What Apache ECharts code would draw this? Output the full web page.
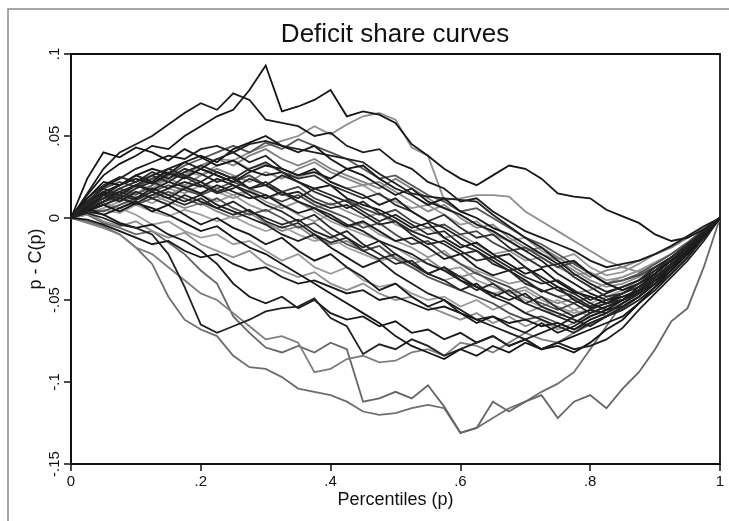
<!DOCTYPE html>
<html>
<head>
<meta charset="utf-8">
<style>
  html, body { margin: 0; padding: 0; background: #fff; }
  #chart { width: 729px; height: 521px; }
</style>
<script src="https://cdn.jsdelivr.net/npm/echarts@6/dist/echarts.min.js"></script>
</head>
<body>
<div id="chart"></div>
<script>
// Percentile grid shared by every curve
const percentiles = [0, 0.025, 0.05, 0.075, 0.1, 0.125, 0.15, 0.175, 0.2, 0.225, 0.25, 0.275, 0.3, 0.325, 0.35, 0.375, 0.4, 0.425, 0.45, 0.475, 0.5, 0.525, 0.55, 0.575, 0.6, 0.625, 0.65, 0.675, 0.7, 0.725, 0.75, 0.775, 0.8, 0.825, 0.85, 0.875, 0.9, 0.925, 0.95, 0.975, 1];

// p - C(p) for each curve, in thousandths
const curve01 = [0,14,26,33,38,44,42,50,56,62,66,78,93,65,68,72,78,62,65,63,58,45,38,30,24,20,26,32,30,24,15,13,12,5,1,-3,-10,-14,-12,-7,0];
const curve02 = [0,15,30,40,45,50,57,64,70,66,76,72,60,58,56,50,52,44,40,42,34,30,22,18,10,12,4,-2,-8,-12,-16,-20,-26,-30,-28,-26,-22,-17,-11,-5,0];
const curve03 = [0,6,12,16,20,24,27,26,32,36,35,40,44,47,50,56,51,57,62,64,60,43,38,11,12,14,14,13,4,-2,-8,-14,-20,-26,-30,-33,-30,-25,-18,-10,0];
const curve04 = [0,10,19,24,30,34,38,36,42,44,40,45,47,44,42,40,38,36,34,27,21,15,13,12,11,10,2,-5,-12,-18,-26,-34,-40,-45,-42,-38,-32,-26,-18,-9,0];
const curve05 = [0,24,40,37,43,40,35,42,37,32,35,29,26,28,22,18,20,12,8,5,0,-6,-3,-12,-18,-15,-22,-28,-34,-31,-39,-45,-48,-52,-50,-46,-40,-32,-22,-12,0];
const curve06 = [0,5,12,15,20,18,24,28,26,32,35,30,33,28,25,28,22,18,20,14,10,6,8,2,-4,-2,-10,-14,-12,-20,-25,-22,-30,-35,-33,-28,-22,-18,-12,-6,0];
const curve07 = [0,12,20,25,22,28,24,30,27,22,25,18,20,14,16,10,6,8,2,-4,-2,-10,-16,-14,-20,-26,-24,-30,-36,-40,-38,-44,-50,-46,-42,-38,-30,-24,-16,-8,0];
const curve08 = [0,8,16,14,20,17,22,19,15,20,16,12,14,8,3,6,0,-5,-2,-8,-14,-12,-18,-25,-22,-30,-35,-32,-38,-45,-42,-50,-55,-52,-48,-44,-38,-30,-20,-10,0];
const curve09 = [0,7,12,10,15,18,14,19,22,18,14,17,12,15,10,6,9,4,0,3,-4,-8,-6,-12,-10,-16,-22,-20,-26,-24,-30,-35,-33,-38,-36,-32,-27,-22,-15,-7,0];
const curve10 = [0,10,18,22,19,24,28,25,30,26,22,26,20,16,19,12,8,11,6,2,5,-2,-6,-4,-10,-8,-15,-20,-18,-24,-30,-27,-34,-40,-38,-35,-30,-24,-17,-9,0];
const curve11 = [0,6,10,14,11,16,12,8,12,6,2,5,-2,-6,-3,-10,-15,-12,-20,-25,-22,-28,-34,-30,-38,-44,-40,-47,-52,-48,-55,-60,-56,-52,-50,-45,-38,-30,-22,-12,0];
const curve12 = [0,4,9,6,11,14,10,6,9,4,0,3,-3,-8,-5,-12,-16,-14,-20,-17,-24,-28,-25,-32,-36,-33,-40,-45,-42,-48,-52,-49,-54,-50,-46,-42,-36,-28,-20,-10,0];
const curve13 = [0,4,2,-3,-6,-4,-10,-14,-20,-28,-40,-48,-52,-48,-55,-50,-58,-62,-60,-66,-63,-70,-68,-74,-70,-76,-72,-78,-74,-80,-76,-72,-68,-64,-60,-52,-44,-34,-24,-12,0];
const curve14 = [0,3,0,-4,-6,-10,-22,-42,-65,-70,-66,-62,-57,-55,-54,-49,-61,-66,-83,-77,-80,-74,-78,-84,-80,-76,-72,-78,-74,-70,-66,-70,-64,-60,-56,-50,-42,-34,-24,-12,0];
const curve15 = [0,-2,-5,-10,-18,-28,-48,-62,-68,-72,-84,-91,-92,-97,-104,-106,-108,-112,-118,-120,-119,-116,-114,-116,-131,-128,-122,-116,-112,-106,-101,-94,-80,-66,-52,-44,-34,-25,-16,-8,0];
const curve16 = [0,2,-3,-6,-10,-8,-15,-22,-32,-40,-60,-70,-79,-82,-78,-82,-76,-80,-112,-110,-106,-110,-102,-115,-131,-128,-112,-118,-112,-108,-122,-112,-108,-116,-104,-94,-80,-63,-55,-30,0];
const curve17 = [0,-3,-6,-10,-18,-22,-30,-38,-46,-50,-58,-66,-74,-72,-76,-94,-92,-86,-84,-88,-87,-82,-80,-84,-76,-78,-82,-76,-70,-74,-76,-70,-65,-60,-52,-46,-36,-28,-20,-10,0];
const curve18 = [0,5,8,4,9,6,2,-3,-8,-5,-12,-18,-22,-28,-34,-40,-46,-52,-58,-64,-72,-78,-82,-86,-80,-84,-78,-82,-76,-80,-78,-82,-76,-68,-62,-52,-42,-32,-22,-10,0];
const curve19 = [0,8,12,16,12,18,14,10,14,8,4,0,-4,-10,-14,-10,-18,-24,-30,-26,-34,-40,-46,-50,-56,-62,-66,-70,-74,-80,-76,-80,-78,-74,-67,-56,-46,-36,-26,-14,0];
const curve20 = [0,4,10,13,8,12,16,12,8,12,6,2,5,0,-6,-3,-10,-16,-20,-17,-25,-30,-36,-40,-44,-48,-52,-58,-62,-60,-64,-68,-64,-60,-55,-48,-40,-30,-21,-11,0];
const curve21 = [0,3,6,10,13,9,14,18,14,10,14,8,4,8,2,-2,2,-6,-10,-14,-18,-24,-28,-32,-30,-38,-42,-46,-44,-50,-54,-58,-56,-60,-54,-46,-38,-30,-20,-10,0];
const curve22 = [0,9,15,12,18,22,18,25,20,15,18,24,20,26,22,16,12,6,10,3,-2,-8,-12,-16,-22,-20,-28,-32,-40,-44,-48,-52,-58,-54,-50,-44,-36,-28,-20,-10,0];
const curve23 = [0,12,22,20,26,30,27,34,38,34,42,46,50,44,40,44,36,30,32,24,18,14,8,12,4,0,-6,-10,-16,-22,-28,-26,-34,-40,-44,-40,-34,-26,-18,-9,0];
const curve24 = [0,8,14,18,15,20,24,20,26,30,26,22,28,24,30,34,28,24,20,22,16,10,4,8,0,-6,-4,-12,-18,-22,-26,-32,-38,-42,-40,-36,-30,-24,-16,-8,0];
const curve25 = [0,2,5,3,8,4,1,5,2,-2,1,-4,-8,-5,-10,-14,-12,-18,-22,-26,-24,-30,-34,-38,-35,-42,-46,-44,-50,-54,-50,-56,-60,-56,-52,-45,-38,-30,-21,-11,0];
const curve26 = [0,6,12,18,22,26,22,28,32,28,24,30,34,28,24,26,20,16,12,15,8,4,-2,2,-6,-12,-10,-18,-24,-30,-28,-36,-42,-48,-46,-42,-36,-28,-20,-10,0];
const curve27 = [0,5,4,8,12,16,20,17,14,18,22,18,14,10,14,8,4,0,-6,-3,-10,-16,-14,-22,-28,-34,-38,-42,-48,-52,-56,-52,-48,-52,-46,-40,-34,-26,-18,-9,0];
const curve28 = [0,10,16,20,24,21,27,24,30,26,22,28,32,30,26,28,24,30,26,20,14,18,10,6,2,-4,-8,-14,-20,-26,-34,-40,-46,-50,-48,-44,-36,-28,-20,-10,0];
const curve29 = [0,3,-2,-5,-2,-8,-12,-9,-16,-20,-24,-20,-28,-32,-36,-33,-40,-44,-40,-46,-50,-48,-54,-58,-62,-58,-64,-60,-66,-62,-68,-64,-60,-56,-50,-44,-36,-28,-20,-10,0];
const curve30 = [0,7,14,10,16,12,8,14,10,6,10,4,0,-4,-1,-8,-12,-8,-16,-22,-28,-26,-34,-30,-36,-42,-48,-44,-52,-56,-60,-64,-58,-54,-50,-44,-36,-28,-20,-10,0];
const curve31 = [0,6,10,14,18,24,22,28,32,36,32,38,42,36,32,36,30,26,22,18,24,18,12,6,2,-4,-8,-14,-20,-18,-24,-30,-36,-32,-30,-26,-22,-18,-12,-6,0];
const curve32 = [0,4,8,12,9,14,18,22,19,24,20,16,12,16,10,6,2,-4,-8,-14,-18,-22,-28,-32,-38,-42,-46,-50,-46,-54,-58,-62,-66,-60,-54,-48,-40,-30,-20,-10,0];
const curve33 = [0,5,8,12,16,12,18,15,20,16,12,16,10,6,10,4,-2,-6,-3,-10,-14,-18,-24,-20,-28,-32,-36,-40,-38,-44,-48,-46,-44,-40,-36,-32,-28,-22,-15,-8,0];
const curve34 = [0,-1,-4,-8,-12,-16,-14,-20,-24,-22,-28,-32,-30,-36,-40,-38,-42,-46,-44,-50,-48,-52,-56,-54,-58,-62,-60,-64,-62,-66,-64,-68,-62,-58,-52,-46,-38,-30,-20,-10,0];
const curve35 = [0,6,14,20,26,22,30,34,30,36,40,34,38,30,26,30,22,18,14,8,12,4,-2,-6,-12,-18,-24,-22,-30,-36,-42,-46,-52,-56,-54,-48,-40,-30,-20,-10,0];
const curve36 = [0,4,8,6,2,-4,-2,-8,-12,-10,-16,-14,-20,-26,-22,-30,-34,-30,-38,-42,-40,-46,-50,-48,-54,-50,-56,-52,-58,-54,-60,-56,-52,-48,-44,-38,-32,-24,-16,-8,0];
const curve37 = [0,10,18,14,20,26,30,26,22,28,24,18,22,16,12,18,14,10,4,-2,2,-4,-10,-8,-16,-20,-26,-32,-30,-38,-44,-48,-54,-50,-46,-40,-32,-24,-16,-8,0];
const curve38 = [0,6,2,6,10,4,8,2,-4,0,-6,-10,-16,-12,-20,-26,-22,-30,-36,-44,-40,-48,-54,-50,-58,-64,-60,-66,-70,-64,-70,-66,-60,-56,-50,-42,-34,-26,-18,-9,0];
const curve39 = [0,8,12,18,14,20,26,32,36,40,44,40,46,42,48,44,40,36,30,24,26,20,14,10,4,6,0,-6,-12,-16,-22,-28,-34,-40,-38,-34,-28,-22,-15,-7,0];
const curve40 = [0,5,10,16,20,16,12,18,22,16,20,14,8,4,-2,2,-6,-12,-18,-14,-22,-28,-34,-38,-44,-40,-48,-52,-58,-62,-66,-60,-56,-58,-52,-46,-38,-28,-18,-9,0];

// Axis tick labels
const xTickLabels = ['0', '.2', '.4', '.6', '.8', '1'];
const yTickLabels = ['-.15', '-.1', '-.05', '0', '.05', '.1'];

// Drawing order (light grey first so the dark curves sit on top) and tone of each curve
const curves = [
  curve03, curve06, curve09, curve12, curve15, curve16, curve17, curve21, curve24, curve25, curve29, curve31, curve33, curve36,
  curve10, curve20, curve27, curve39,
  curve01, curve02, curve04, curve05, curve07, curve08, curve11, curve13, curve14, curve18, curve19,
  curve22, curve23, curve26, curve28, curve30, curve32, curve34, curve35, curve37, curve38, curve40
];
const tones = [
  '#8e8e8e', '#999999', '#959595', '#848484', '#6e6e6e', '#666666', '#7e7e7e', '#9c9c9c', '#8a8a8a', '#a2a2a2', '#909090', '#808080', '#969696', '#9a9a9a',
  '#444444', '#4e4e4e', '#4a4a4a', '#555555',
  '#161616', '#1c1c1c', '#202020', '#141414', '#242424', '#1a1a1a', '#2a2a2a', '#181818', '#222222', '#141414', '#1e1e1e',
  '#282828', '#161616', '#2c2c2c', '#1a1a1a', '#242424', '#202020', '#181818', '#1e1e1e', '#262626', '#1a1a1a', '#222222'
];

const series = curves.map((c, k) => ({
  type: 'line',
  data: percentiles.map((p, i) => [p, c[i] / 1000]),
  showSymbol: false,
  symbol: 'none',
  silent: true,
  lineStyle: { color: tones[k], width: 1.8, join: 'miter' },
  z: 2
}));

const FONT = 'Liberation Sans, Arial, sans-serif';
const chart = echarts.init(document.getElementById('chart'), null, { renderer: 'canvas' });
chart.setOption({
  animation: false,
  backgroundColor: '#ffffff',
  graphic: [
    {
      // outer frame of the figure
      type: 'rect',
      shape: { x: 8, y: 9, width: 740, height: 540 },
      style: { fill: 'none', stroke: '#8a8a8a', lineWidth: 1.5 },
      silent: true,
      z: -1
    },
    {
      // figure title, centred over the plot region
      type: 'text',
      x: 395,
      y: 22,
      style: {
        text: 'Deficit share curves',
        fontFamily: FONT, fontSize: 26, fill: '#111',
        textAlign: 'center', textVerticalAlign: 'top'
      },
      silent: true
    }
  ],
  grid: {
    left: 71, right: 9, top: 54, bottom: 57,
    show: true, borderColor: '#111', borderWidth: 1.8, backgroundColor: '#fff'
  },
  xAxis: {
    type: 'value', min: 0, max: 1, interval: 0.2,
    name: 'Percentiles (p)', nameLocation: 'middle', nameGap: 27, nameMoveOverlap: false,
    nameTextStyle: { fontFamily: FONT, fontSize: 18, color: '#111' },
    axisLine: { show: true, onZero: false, lineStyle: { color: '#111', width: 2 } },
    axisTick: { show: true, length: 7, lineStyle: { color: '#111', width: 1.5 } },
    axisLabel: {
      margin: 10, fontFamily: FONT, fontSize: 15, color: '#111',
      formatter: (v) => xTickLabels[Math.round(v * 5)]
    },
    splitLine: { show: false }
  },
  yAxis: {
    type: 'value', min: -0.15, max: 0.1, interval: 0.05,
    name: 'p - C(p)', nameLocation: 'middle', nameGap: 26, nameRotate: 90, nameMoveOverlap: false,
    nameTextStyle: { fontFamily: FONT, fontSize: 18, color: '#111' },
    axisLine: { show: true, onZero: false, lineStyle: { color: '#111', width: 2 } },
    axisTick: { show: true, length: 7, lineStyle: { color: '#111', width: 1.5 } },
    axisLabel: {
      rotate: 90, margin: 9, fontFamily: FONT, fontSize: 15, color: '#111',
      formatter: (v) => yTickLabels[Math.round((v + 0.15) * 20)]
    },
    splitLine: { show: false }
  },
  series: series
});
</script>
</body>
</html>
